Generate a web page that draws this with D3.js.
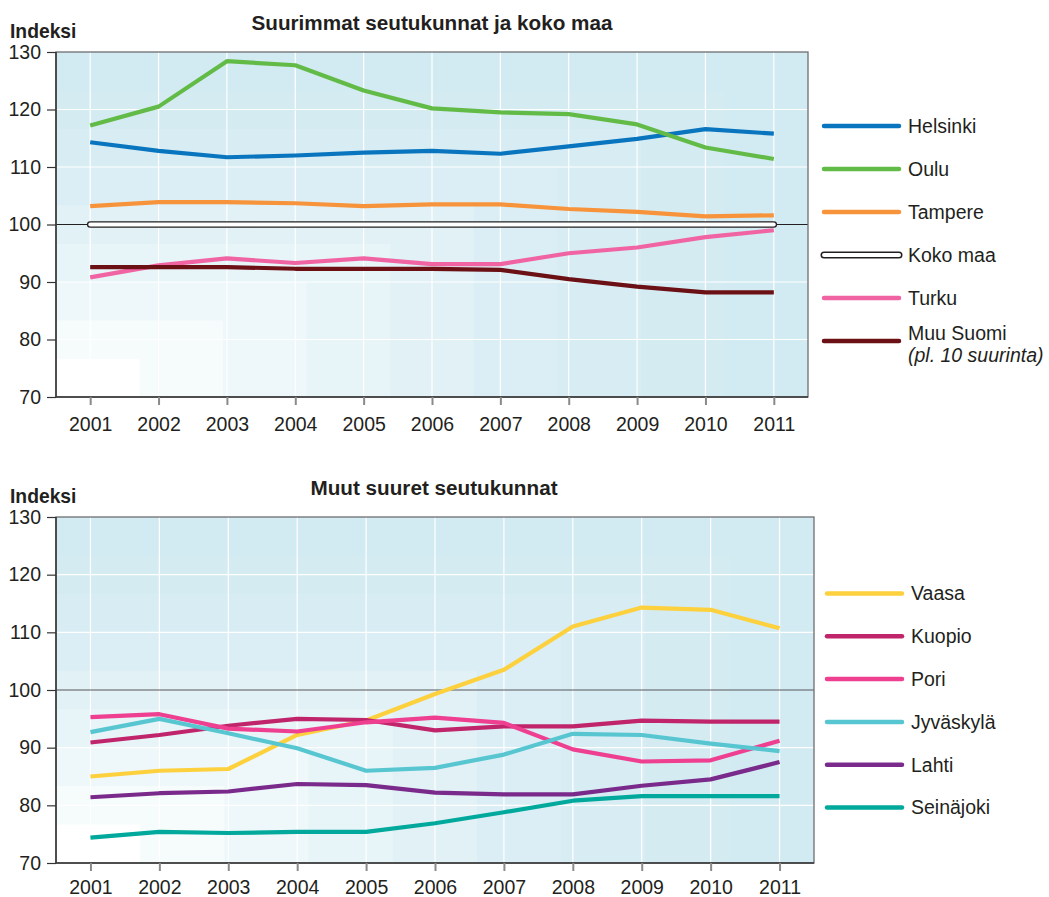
<!DOCTYPE html>
<html>
<head>
<meta charset="utf-8">
<script src="https://cdn.jsdelivr.net/npm/d3@7"></script>
<style>
body{margin:0;background:#fff;}
text{font-family:"Liberation Sans",Arial,sans-serif;fill:#231f20;}
</style>
</head>
<body>
<svg id="chart" width="1049" height="897"></svg>
<script>
// data
var years = [2001, 2002, 2003, 2004, 2005, 2006, 2007, 2008, 2009, 2010, 2011];
var yTicks = [70, 80, 90, 100, 110, 120, 130];

var helsinki  = [114.3, 112.8, 111.7, 112.0, 112.5, 112.8, 112.3, 113.6, 114.9, 116.6, 115.8];
var oulu      = [117.2, 120.5, 128.4, 127.7, 123.3, 120.2, 119.5, 119.2, 117.4, 113.4, 111.4];
var tampere   = [103.2, 103.9, 103.9, 103.7, 103.2, 103.5, 103.5, 102.7, 102.2, 101.4, 101.6];
var kokoMaa   = [100, 100, 100, 100, 100, 100, 100, 100, 100, 100, 100];
var turku     = [90.8, 92.9, 94.1, 93.3, 94.1, 93.1, 93.1, 95.0, 96.0, 97.8, 99.0];
var muuSuomi  = [92.6, 92.6, 92.6, 92.3, 92.3, 92.3, 92.1, 90.5, 89.2, 88.2, 88.2];

var vaasa     = [85.0, 86.0, 86.3, 92.2, 94.7, 99.3, 103.5, 111.0, 114.3, 113.9, 110.7];
var kuopio    = [90.9, 92.2, 93.8, 95.0, 94.8, 93.0, 93.7, 93.7, 94.7, 94.5, 94.5];
var pori      = [95.3, 95.8, 93.3, 92.8, 94.4, 95.2, 94.3, 89.7, 87.6, 87.8, 91.2];
var jyvaskyla = [92.7, 95.0, 92.5, 89.9, 86.0, 86.5, 88.8, 92.4, 92.2, 90.7, 89.4];
var lahti     = [81.4, 82.1, 82.4, 83.7, 83.5, 82.2, 81.9, 81.9, 83.4, 84.5, 87.5];
var seinajoki = [74.4, 75.4, 75.2, 75.4, 75.4, 76.9, 78.8, 80.8, 81.6, 81.6, 81.6];

var topSeries = [
  {name: "Helsinki", values: helsinki, color: "#0a75bf"},
  {name: "Oulu", values: oulu, color: "#63bb47"},
  {name: "Tampere", values: tampere, color: "#f7943b"},
  {name: "Koko maa", values: kokoMaa, color: "#ffffff", outline: true},
  {name: "Turku", values: turku, color: "#f064a4"},
  {name: "Muu Suomi", sub: "(pl. 10 suurinta)", values: muuSuomi, color: "#6b1014"}
];
var bottomSeries = [
  {name: "Vaasa", values: vaasa, color: "#fdd03d"},
  {name: "Kuopio", values: kuopio, color: "#c0256b"},
  {name: "Pori", values: pori, color: "#ee3f91"},
  {name: "Jyväskylä", values: jyvaskyla, color: "#57c6d1"},
  {name: "Lahti", values: lahti, color: "#7a2a8b"},
  {name: "Seinäjoki", values: seinajoki, color: "#00a99c"}
];

var svg = d3.select("#chart");

function drawPanel(cfg){
  var g = svg.append("g");
  var x = d3.scalePoint().domain(years).range([cfg.left, cfg.right]).padding(0.5);
  var y = d3.scaleLinear().domain([70, 130]).range([cfg.bottom, cfg.top]);
  var w = cfg.right - cfg.left, h = cfg.bottom - cfg.top;

  // stepped background, lighter towards the lower left corner
  g.append("rect").attr("x", cfg.left).attr("y", cfg.top).attr("width", w).attr("height", h).attr("fill", "#d2eaf2");
  var steps = d3.range(1, 9);
  var col = d3.interpolateRgb("#d2eaf2", "#ffffff");
  g.selectAll("rect.bg").data(steps).enter().append("rect").attr("class", "bg")
    .attr("x", cfg.left)
    .attr("y", function(k){ return cfg.bottom - h * (1 - k / 9); })
    .attr("width", function(k){ return w * (1 - k / 9); })
    .attr("height", function(k){ return h * (1 - k / 9); })
    .attr("fill", function(k){ return col(Math.pow(k / 8, 1.6)); });

  // grid
  g.selectAll("line.gy").data([80, 90, 110, 120]).enter().append("line").attr("class", "gy")
    .attr("x1", cfg.left).attr("x2", cfg.right)
    .attr("y1", function(d){ return y(d); }).attr("y2", function(d){ return y(d); })
    .attr("stroke", "#fff").attr("stroke-width", 1.2);
  g.selectAll("line.gx").data(years).enter().append("line").attr("class", "gx")
    .attr("x1", function(d){ return x(d); }).attr("x2", function(d){ return x(d); })
    .attr("y1", cfg.top).attr("y2", cfg.bottom)
    .attr("stroke", "#fff").attr("stroke-width", 1.2);
  g.append("line").attr("x1", cfg.left).attr("x2", cfg.right).attr("y1", y(100)).attr("y2", y(100))
    .attr("stroke", cfg.refColor).attr("stroke-width", 1.2);

  // frame
  g.append("rect").attr("x", cfg.left).attr("y", cfg.top).attr("width", w).attr("height", h)
    .attr("fill", "none").attr("stroke", "#6d6e71").attr("stroke-width", 1.3);
  g.append("line").attr("x1", cfg.left).attr("x2", cfg.left).attr("y1", cfg.top).attr("y2", cfg.bottom)
    .attr("stroke", "#333").attr("stroke-width", 1.5);
  g.append("line").attr("x1", cfg.left).attr("x2", cfg.right).attr("y1", cfg.bottom).attr("y2", cfg.bottom)
    .attr("stroke", "#333").attr("stroke-width", 1.5);

  // axes
  var ya = g.append("g").attr("transform", "translate(" + cfg.left + ",0)")
    .call(d3.axisLeft(y).tickValues(yTicks).tickSize(9).tickPadding(6));
  ya.select(".domain").remove();
  ya.selectAll(".tick line").attr("stroke", "#333").attr("stroke-width", 1.2);
  ya.selectAll("text").attr("font-size", 19.5).attr("font-family", null).style("fill", "#231f20");

  var xa = g.append("g").attr("transform", "translate(0," + cfg.bottom + ")")
    .call(d3.axisBottom(x).tickSize(8).tickPadding(cfg.xPad));
  xa.select(".domain").remove();
  xa.selectAll(".tick line").attr("stroke", "#8a8a8a").attr("stroke-width", 2);
  xa.selectAll("text").attr("font-size", 19.5).attr("font-family", null).style("fill", "#231f20");

  // lines
  var line = d3.line().x(function(d, i){ return x(years[i]); }).y(function(d){ return y(d); });
  cfg.series.forEach(function(s){
    if (s.outline) {
      g.append("path").attr("d", line(s.values)).attr("fill", "none")
        .attr("stroke", "#231f20").attr("stroke-width", 6.5).attr("stroke-linecap", "round");
    }
    g.append("path").attr("d", line(s.values)).attr("fill", "none")
      .attr("stroke", s.color).attr("stroke-width", s.outline ? 3.8 : 4.2)
      .attr("stroke-linejoin", "round").attr("stroke-linecap", s.outline ? "round" : "butt");
  });

  // titles
  svg.append("text").attr("x", 10).attr("y", cfg.top - 14).attr("font-size", 19.3).attr("font-weight", "bold").text("Indeksi");
  svg.append("text").attr("x", cfg.titleX).attr("y", cfg.top - 22).attr("text-anchor", "middle")
    .attr("font-size", 20.7).attr("font-weight", "bold").text(cfg.title);

  // legend
  var lg = svg.selectAll(null).data(cfg.series).enter().append("g")
    .attr("transform", function(d, i){ return "translate(" + cfg.legX + "," + (cfg.legY + i * cfg.legStep) + ")"; });
  lg.each(function(s){
    var e = d3.select(this);
    if (s.outline) {
      e.append("line").attr("x1", 0).attr("x2", 75).attr("stroke", "#231f20")
        .attr("stroke-width", 7).attr("stroke-linecap", "round");
    }
    e.append("line").attr("x1", 0).attr("x2", 75).attr("stroke", s.color)
      .attr("stroke-width", s.outline ? 4 : 4.5).attr("stroke-linecap", "round");
    e.append("text").attr("x", 84).attr("y", s.sub ? -8 : 0).attr("dy", "0.35em").attr("font-size", 19.5).text(s.name);
    if (s.sub) {
      e.append("text").attr("x", 84).attr("y", 14).attr("dy", "0.35em").attr("font-size", 19.5)
        .attr("font-style", "italic").text(s.sub);
    }
  });
}

drawPanel({left: 56, right: 808, top: 52, bottom: 397, series: topSeries, refColor: "#231f20", xPad: 12,
  title: "Suurimmat seutukunnat ja koko maa", titleX: 432, legX: 824, legY: 126, legStep: 43});
drawPanel({left: 56, right: 814, top: 517, bottom: 863, series: bottomSeries, refColor: "#58595b", xPad: 9,
  title: "Muut suuret seutukunnat", titleX: 434, legX: 827, legY: 593.5, legStep: 42.8});
</script>
</body>
</html>
